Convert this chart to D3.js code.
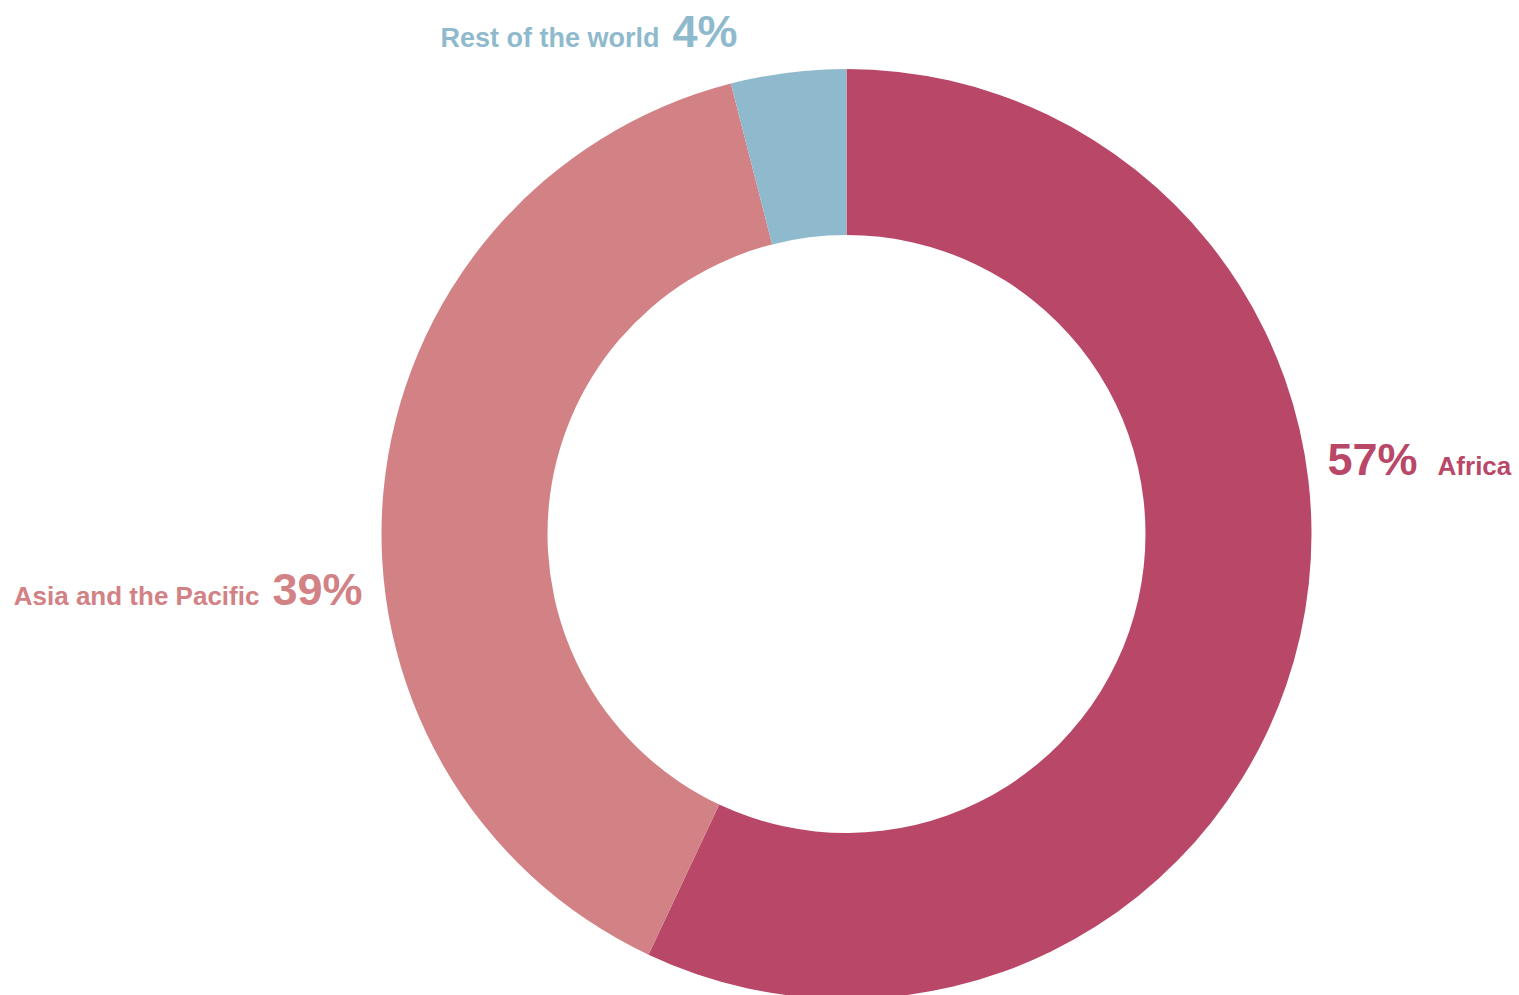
<!DOCTYPE html>
<html><head><meta charset="utf-8">
<script src="https://cdn.jsdelivr.net/npm/d3@7"></script>
<style>html,body{margin:0;padding:0;background:#fff;overflow:hidden}</style>
</head><body>
<svg id="chart" width="1519" height="995"></svg>
<script>
const categories = ["Africa", "Asia and the Pacific", "Rest of the world"];
const values = [57, 39, 4];
const colors = ["#B94767", "#D28185", "#8FBACD"];
const pctLabels = ["57%", "39%", "4%"];

const svg = d3.select("#chart");
const cx = 846.5, cy = 534, outerR = 465, innerR = 299;
const g = svg.append("g").attr("transform", `translate(${cx},${cy})`);

const pie = d3.pie().sort(null).value(d => d)(values);
const arc = d3.arc().innerRadius(innerR).outerRadius(outerR);
g.selectAll("path").data(pie).join("path")
  .attr("d", arc).attr("fill", (d, i) => colors[i]);

const font = "'Liberation Sans', Arial, sans-serif";
const nameSize = 26, pctSize = 45;
// Africa: percent then name, right of ring
const a = svg.append("text").attr("x", cx + outerR + 16).attr("y", cy - 59)
  .attr("font-family", font).attr("font-weight", "bold").attr("fill", colors[0]);
a.append("tspan").attr("font-size", pctSize).text(pctLabels[0]);
a.append("tspan").attr("font-size", nameSize).attr("dx", 20).text(categories[0]);

// Asia: name then percent, left of ring, right-aligned
const b = svg.append("text").attr("x", cx - outerR - 19).attr("y", cy + 71)
  .attr("text-anchor", "end")
  .attr("font-family", font).attr("font-weight", "bold").attr("fill", colors[1]);
b.append("tspan").attr("font-size", nameSize).text(categories[1]);
b.append("tspan").attr("font-size", pctSize).attr("dx", 13).text(pctLabels[1]);

// Rest of world: name then percent, above
const c = svg.append("text").attr("x", cx - 109).attr("y", cy - 487)
  .attr("text-anchor", "end")
  .attr("font-family", font).attr("font-weight", "bold").attr("fill", colors[2]);
c.append("tspan").attr("font-size", 27).text(categories[2]);
c.append("tspan").attr("font-size", pctSize).attr("dx", 13).text(pctLabels[2]);
</script>
</body></html>
